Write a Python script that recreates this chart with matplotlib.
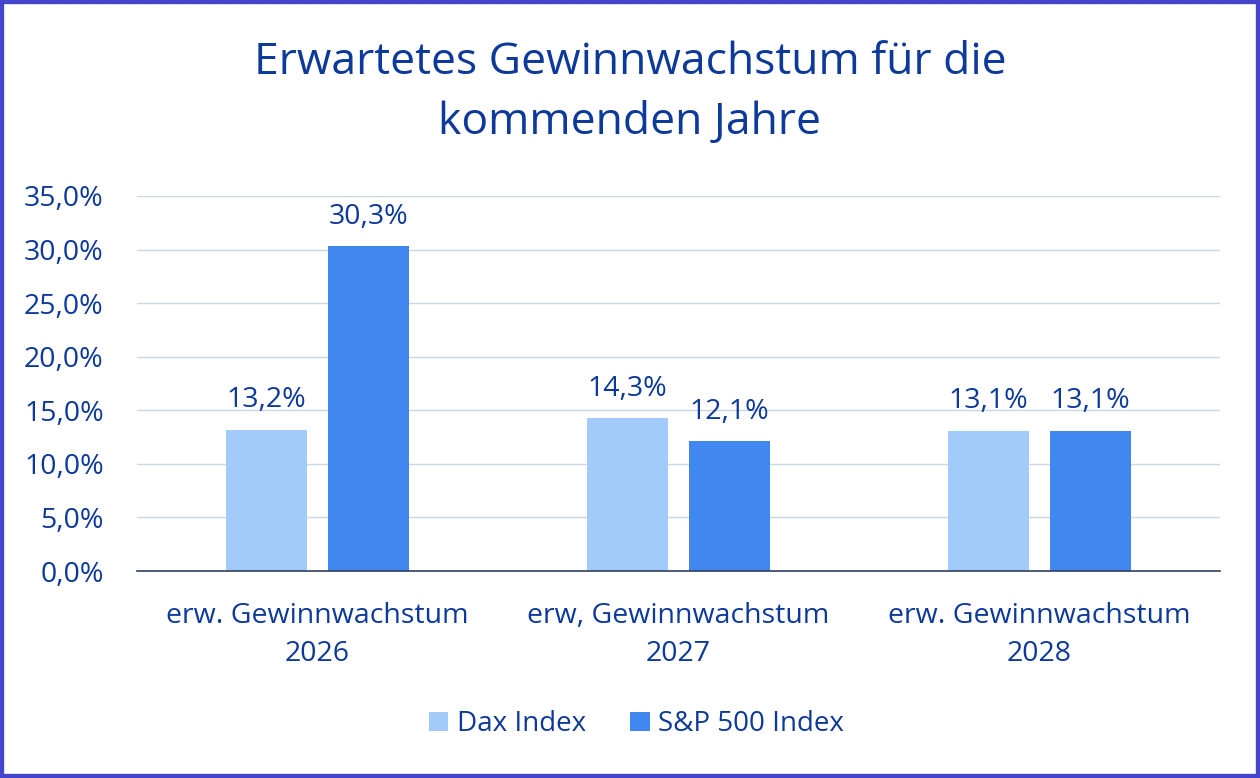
import numpy as np
import matplotlib.pyplot as plt
from matplotlib.patches import Rectangle
from matplotlib.ticker import FuncFormatter

plt.rcParams['font.family'] = ['Open Sans', 'DejaVu Sans']

# data
categories = ['erw. Gewinnwachstum\n2026', 'erw, Gewinnwachstum\n2027', 'erw. Gewinnwachstum\n2028']
dax = [13.2, 14.3, 13.1]
sp500 = [30.3, 12.1, 13.1]
series_names = ['Dax Index', 'S&P 500 Index']

txt_col = '#0D3A9A'
col_dax = '#A3CBFA'
col_sp = '#4088F0'

def de_pct(v, dec=1):
    return f'{v:.{dec}f}%'.replace('.', ',')

fig = plt.figure(figsize=(12.6, 7.78), dpi=100)
ax = fig.add_axes([137/1260, 1 - 571/778, (1220-137)/1260, (571-196)/778])

x = np.arange(len(categories))
w = 0.224
off = 0.142
b1 = ax.bar(x - off, dax, w, color=col_dax, label=series_names[0], zorder=3)
b2 = ax.bar(x + off, sp500, w, color=col_sp, label=series_names[1], zorder=3)

for bars in (b1, b2):
    for r in bars:
        h = r.get_height()
        ax.annotate(de_pct(h), (r.get_x() + r.get_width()/2, h),
                    xytext=(0, 11), textcoords='offset points',
                    ha='center', va='bottom', fontsize=20.5, color=txt_col)

ax.set_xlim(-0.5, 2.5)
ax.set_ylim(0, 35)
ax.set_yticks(np.arange(0, 36, 5))
ax.yaxis.set_major_formatter(FuncFormatter(lambda v, p: de_pct(v)))
ax.set_xticks(x)
ax.set_xticklabels(categories, fontsize=20.5, color=txt_col, linespacing=1.5)
ax.tick_params(axis='y', labelsize=20.5, labelcolor=txt_col, length=0, pad=24)
ax.tick_params(axis='x', length=0, pad=22)
ax.grid(axis='y', color='#C8D8E4', linewidth=1, zorder=0)
for s in ['top', 'right', 'left']:
    ax.spines[s].set_visible(False)
ax.spines['bottom'].set_color('#2F3F5F')
ax.spines['bottom'].set_linewidth(1.2)
ax.spines['bottom'].set_zorder(4)

fig.text(0.5, 1 - 93/778, 'Erwartetes Gewinnwachstum für die\nkommenden Jahre',
         ha='center', va='center', fontsize=32, color=txt_col, linespacing=1.46)

fig.legend(loc='center', bbox_to_anchor=(0.505, 1 - 724/778), ncol=2, frameon=False,
           fontsize=20, labelcolor=txt_col, handlelength=0.7, handleheight=0.7,
           handletextpad=0.3, columnspacing=1.6)

fig.add_artist(Rectangle((0, 0), 1, 1, transform=fig.transFigure, fill=False,
                         edgecolor='#4444CC', linewidth=6, clip_on=False))

fig.savefig('out.png', dpi=100)
